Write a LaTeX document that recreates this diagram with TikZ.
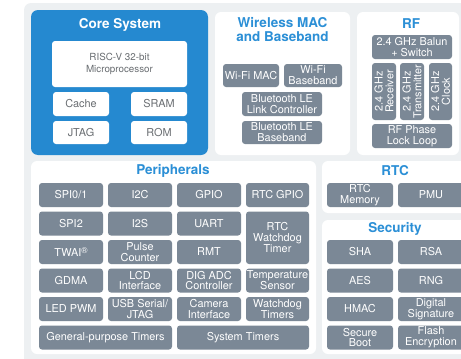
\documentclass[tikz,border=0pt]{standalone}
\usepackage{fontspec}
\setmainfont{TeX Gyre Heros}
\usepackage{tikz}
\definecolor{bggray}{HTML}{EDF0F2}
\definecolor{coreblue}{HTML}{2589D0}
\definecolor{ttlblue}{HTML}{2B8FD6}
\definecolor{blkgray}{HTML}{7B8896}
\definecolor{txtgray}{HTML}{6A6E72}
\tikzstyle{panel}=[fill=white,rounded corners=6pt,inner sep=0pt,outer sep=0pt]
\tikzstyle{blk}=[fill=blkgray,text=white,rounded corners=3pt,inner sep=0pt,outer sep=0pt,align=center,font=\fontsize{10.9}{10.8}\selectfont]
\tikzstyle{wblk}=[fill=white,text=txtgray,rounded corners=3pt,inner sep=0pt,outer sep=0pt,align=center,font=\fontsize{10.9}{12}\selectfont]
\tikzstyle{ttl}=[text=ttlblue,align=center,font=\bfseries\fontsize{13.5}{14.5}\selectfont]
\tikzstyle{cell}=[minimum width=64pt,minimum height=24pt]
\tikzstyle{sec}=[minimum width=66pt,minimum height=24pt]

\begin{document}
\begin{tikzpicture}[x=1pt,y=-1pt]
\useasboundingbox (0,0) rectangle (461,359);
\clip (0,0) rectangle (461,359);
\fill[bggray,rounded corners=7pt] (24,3) rectangle (480,370);
\begin{scope} %Core System
	\node[panel,fill=coreblue,rounded corners=7pt,minimum width=177pt,minimum height=145pt] (core) at (119.5,82.5) {};
	\node[ttl,text=white] (coreT) at (120,25) {Core System};
	\node[wblk,font=\fontsize{9.8}{12}\selectfont,minimum width=135pt,minimum height=46pt] (cpu) at (119.5,64) {RISC-V 32-bit\\Microprocessor};
	\node[wblk,minimum width=56pt,minimum height=24pt] (cache) at (81,104) {Cache};
	\node[wblk,minimum width=56pt,minimum height=24pt] (sram) at (159,104) {SRAM};
	\node[wblk,minimum width=56pt,minimum height=23pt] (jtag) at (81,132.5) {JTAG};
	\node[wblk,minimum width=56pt,minimum height=23pt] (rom) at (159,132.5) {ROM};
\end{scope}
\begin{scope} %Wireless MAC and Baseband
	\node[panel,minimum width=135pt,minimum height=143pt] (wmac) at (282.5,83.5) {};
	\node[ttl,font=\bfseries\fontsize{13.5}{14}\selectfont] (wmacT) at (282.5,30) {Wireless MAC\\and Baseband};
	\node[blk,minimum width=56pt,minimum height=23pt] (wifimac) at (251,75.5) {Wi-Fi MAC};
	\node[blk,minimum width=58pt,minimum height=23pt] (wifibb) at (313,75.5) {Wi-Fi\\Baseband};
	\node[blk,minimum width=80pt,minimum height=24pt] (btlc) at (282,104) {Bluetooth LE\\Link Controller};
	\node[blk,minimum width=80pt,minimum height=23pt] (btbb) at (282,132.5) {Bluetooth LE\\Baseband};
\end{scope}
\begin{scope} %RF
	\node[panel,minimum width=102pt,minimum height=143pt] (rf) at (408,83.5) {};
	\node[ttl] (rfT) at (411,24) {RF};
	\node[blk,minimum width=80pt,minimum height=24pt] (balun) at (412,47) {2.4 GHz Balun\\+ Switch};
	\node[blk,rotate=90,minimum width=57pt,minimum height=24pt] (rx) at (384,91.5) {2.4 GHz\\Receiver};
	\node[blk,rotate=90,minimum width=57pt,minimum height=24pt] (tx) at (412,91.5) {2.4 GHz\\Transmitter};
	\node[blk,rotate=90,minimum width=57pt,minimum height=23pt] (clk) at (440.5,91.5) {2.4 GHz\\Clock};
	\node[blk,minimum width=80pt,minimum height=24pt] (pll) at (412,136) {RF Phase\\Lock Loop};
\end{scope}
\begin{scope} %Peripherals
	\node[panel,minimum width=285pt,minimum height=193pt] (peri) at (173.5,257.5) {};
	\node[ttl] (periT) at (173,171) {Peripherals};
	%colonne 1
	\node[blk,cell] (spi01) at (71,195) {SPI0/1};
	\node[blk,cell] (spi2) at (71,223.5) {SPI2};
	\node[blk,cell] (twai) at (71,252) {TWAI\raisebox{3pt}{\fontsize{8.5}{8.5}\selectfont\textregistered}};
	\node[blk,cell] (gdma) at (71,280.5) {GDMA};
	\node[blk,cell] (ledpwm) at (71,309) {LED PWM};
	%colonne 2
	\node[blk,cell] (i2c) at (140,195) {I2C};
	\node[blk,cell] (i2s) at (140,223.5) {I2S};
	\node[blk,cell] (pcnt) at (140,252) {Pulse\\Counter};
	\node[blk,cell] (lcd) at (140,280.5) {LCD\\Interface};
	\node[blk,cell] (usb) at (140,309) {USB Serial/\\JTAG};
	%colonne 3
	\node[blk,cell] (gpio) at (209,195) {GPIO};
	\node[blk,cell] (uart) at (209,223.5) {UART};
	\node[blk,cell] (rmt) at (209,252) {RMT};
	\node[blk,cell] (adc) at (209,280.5) {DIG ADC\\Controller};
	\node[blk,cell] (cam) at (209,309) {Camera\\Interface};
	%colonne 4
	\node[blk,cell,minimum width=63pt] (rtcgpio) at (277.5,195) {RTC GPIO};
	\node[blk,cell,minimum width=63pt,minimum height=52.5pt] (rtcwdt) at (277.5,237.75) {RTC\\Watchdog\\Timer};
	\node[blk,cell,minimum width=63pt] (temp) at (277.5,280.5) {Temperature\\Sensor};
	\node[blk,cell,minimum width=63pt] (wdt) at (277.5,309) {Watchdog\\Timers};
	%timers
	\node[blk,minimum width=133pt,minimum height=24pt] (gptimer) at (105.5,337.5) {General-purpose Timers};
	\node[blk,minimum width=132pt,minimum height=24pt] (systimer) at (243,337.5) {System Timers};
\end{scope}
\begin{scope} %RTC
	\node[panel,minimum width=146pt,minimum height=52pt] (rtc) at (395,187) {};
	\node[ttl] (rtcT) at (395,171) {RTC};
	\node[blk,sec] (rtcmem) at (360,195) {RTC\\Memory};
	\node[blk,sec] (pmu) at (431,195) {PMU};
\end{scope}
\begin{scope} %Security
	\node[panel,minimum width=146pt,minimum height=134pt] (secu) at (395,287) {};
	\node[ttl] (secuT) at (395,229) {Security};
	\node[blk,sec] (sha) at (360,252) {SHA};
	\node[blk,sec] (rsa) at (431,252) {RSA};
	\node[blk,sec] (aes) at (360,280.5) {AES};
	\node[blk,sec] (rng) at (431,280.5) {RNG};
	\node[blk,sec] (hmac) at (360,309) {HMAC};
	\node[blk,sec] (ds) at (431,309) {Digital\\Signature};
	\node[blk,sec] (sboot) at (360,337.5) {Secure\\Boot};
	\node[blk,sec] (flash) at (431,337.5) {Flash\\Encryption};
\end{scope}
\end{tikzpicture}
\end{document}
